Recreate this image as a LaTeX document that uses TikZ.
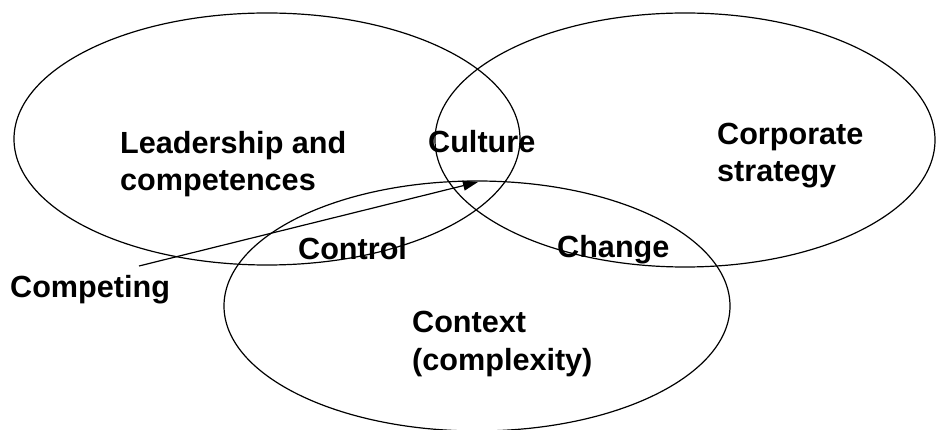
\documentclass[tikz,border=0pt]{standalone}
\usepackage{fontspec}
\setmainfont{Liberation Sans}
\usetikzlibrary{arrows.meta}

\begin{document}
\begin{tikzpicture}[x=1pt, y=-1pt,
  ring/.style={draw, line width=1.2pt},
  lbl/.style={anchor=base west, inner sep=0pt, align=left,
              font=\fontsize{30.6}{37}\selectfont\bfseries},
  arr/.style={-{Triangle[length=15pt, width=10pt]}, line width=1.2pt}]
  \useasboundingbox (0,0) rectangle (937,430);
  % the three circles of the model
  \draw[ring] (267,139) ellipse [x radius=253pt, y radius=126pt];
  \draw[ring] (685,140) ellipse [x radius=250pt, y radius=127pt];
  \draw[ring] (477,306) ellipse [x radius=253pt, y radius=125pt];
  % two-line labels sit on the baseline of their last line
  \node[lbl] (lead) at (120,191) {Leadership and\\competences};
  \node[lbl] (cult) at (428,153) {Culture};
  \node[lbl] (corp) at (717,182) {Corporate\\strategy};
  \node[lbl] (ctrl) at (298,260) {Control};
  \node[lbl] (chg) at (557,258) {Change};
  \node[lbl] (ctx) at (412,370) {Context\\(complexity)};
  \node[lbl] (comp) at (10,298) {Competing};
  \coordinate (tail) at (139,266);
  \coordinate (hub) at (478,182);
  \draw[arr] (tail) -- (hub);
\end{tikzpicture}
\end{document}
